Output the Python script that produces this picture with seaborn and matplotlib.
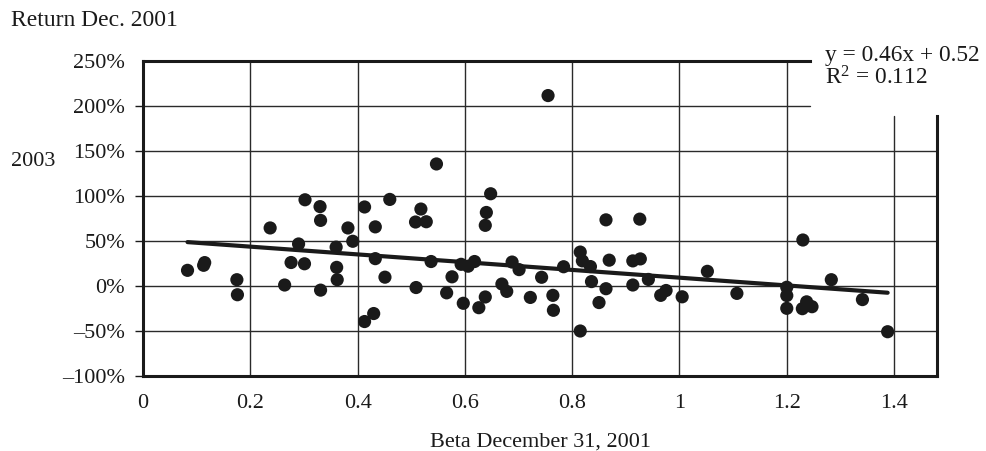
import matplotlib
matplotlib.use("Agg")
import matplotlib.pyplot as plt
import seaborn as sns
import numpy as np
import pandas as pd

# ---- data ----
beta = [0.083, 0.113, 0.115, 0.175, 0.176, 0.237, 0.264, 0.276, 0.290, 0.301,
        0.302, 0.330, 0.331, 0.331, 0.360, 0.361, 0.362, 0.382, 0.391, 0.413,
        0.413, 0.430, 0.433, 0.433, 0.451, 0.460, 0.508, 0.509, 0.518, 0.528,
        0.537, 0.547, 0.566, 0.576, 0.593, 0.597, 0.606, 0.618, 0.626, 0.638,
        0.638, 0.640, 0.648, 0.669, 0.678, 0.688, 0.701, 0.722, 0.743, 0.755,
        0.764, 0.765, 0.784, 0.815, 0.819, 0.834, 0.836, 0.815, 0.850, 0.863,
        0.863, 0.869, 0.913, 0.927, 0.913, 0.926, 0.942, 0.965, 0.975, 1.005,
        1.052, 1.107, 1.200, 1.200, 1.200, 1.230, 1.229, 1.237, 1.247, 1.283,
        1.341, 1.388]
ret = [17.4, 23.0, 26.0, 7.0, -9.7, 64.5, 1.1, 26.1, 46.7, 24.7,
       95.8, 88.2, 72.9, -4.6, 43.2, 20.7, 7.0, 64.5, 49.7, 87.8,
       -39.5, -30.6, 65.7, 30.4, 9.8, 96.2, 71.1, -1.7, 85.5, 71.4,
       27.2, 135.6, -7.6, 10.2, 24.1, -19.2, 22.0, 27.2, -24.1, -12.2,
       67.4, 81.7, 102.5, 2.2, -6.0, 26.6, 18.2, -12.7, 9.7, 211.6,
       -10.4, -27.0, 21.4, 37.7, 27.9, 21.6, 4.9, -50.0, -18.4, 73.5,
       -3.0, 28.7, 27.9, 30.1, 1.1, 74.3, 7.3, -10.4, -5.0, -12.0,
       16.3, -8.2, -1.4, -10.6, -24.8, 51.1, -25.2, -17.6, -23.0, 7.0,
       -15.1, -50.8]

x_ticks = [0, 0.2, 0.4, 0.6, 0.8, 1.0, 1.2, 1.4]
x_labels = ["0", "0.2", "0.4", "0.6", "0.8", "1", "1.2", "1.4"]
y_ticks = [-100, -50, 0, 50, 100, 150, 200, 250]
y_labels = ["\u2013100%", "\u201350%", "0%", "50%", "100%", "150%", "200%", "250%"]

eq_text = "y = 0.46x + 0.52"
r2_text = r"R$^{\mathrm{2}}$ = 0.112"
y_title_1 = "Return Dec. 2001"
y_title_2 = "2003"
x_title = "Beta December 31, 2001"

df = pd.DataFrame({"beta": beta, "ret": ret})

# ---- style ----
sns.set_theme(style="white")
plt.rcParams["font.family"] = ["Liberation Serif", "DejaVu Serif"]
plt.rcParams["mathtext.fontset"] = "custom"
plt.rcParams["mathtext.rm"] = "Liberation Serif"
plt.rcParams["mathtext.it"] = "Liberation Serif:italic"
FS = 16
ink = "#1a1a1a"
grid_c = "#2a2a2a"

fig = plt.figure(figsize=(9.87, 4.51), dpi=100)
ax = fig.add_axes([143 / 987, 1 - 376 / 451, 794 / 987, 315 / 451])

XMAX = 1.48
ax.set_xlim(0, XMAX)
ax.set_ylim(-100, 250)

# grid lines (drawn under the data)
for yv in y_ticks:
    if yv in (-100, 250):
        continue
    xmax = 0.84 if yv == 200 else 1.0
    ax.axhline(yv, xmin=0, xmax=xmax, color=grid_c, lw=1.0, zorder=1)
for xv in x_ticks:
    if xv == 0:
        continue
    ymax = 0.825 if xv == 1.4 else 1.0
    ax.axvline(xv, ymin=0, ymax=ymax, color=grid_c, lw=1.0, zorder=1)

sns.scatterplot(data=df, x="beta", y="ret", ax=ax, color=ink, s=90,
                edgecolor="none", linewidth=0, zorder=3, legend=False)
sns.regplot(data=df, x="beta", y="ret", ax=ax, scatter=False, ci=None,
            truncate=True, line_kws={"color": ink, "lw": 3.0, "zorder": 4})

# spines
for side in ["left", "bottom", "top", "right"]:
    ax.spines[side].set_visible(True)
    ax.spines[side].set_color(ink)
    ax.spines[side].set_linewidth(2.2)
    ax.spines[side].set_zorder(5)
ax.spines["top"].set_bounds(0, (810 - 143) / 794 * XMAX)
ax.spines["right"].set_bounds(-100, 189)

ax.set_xticks(x_ticks)
ax.set_xticklabels(x_labels, fontsize=FS)
ax.set_yticks(y_ticks)
ax.set_yticklabels(y_labels, fontsize=FS)
ax.tick_params(axis="x", length=0, pad=13, colors=ink)
ax.tick_params(axis="y", length=6, width=1.0, pad=7, colors=ink, left=True)
ax.yaxis.get_major_ticks()[-1].tick1line.set_visible(False)

ax.set_xlabel(x_title, fontsize=FS, color=ink, labelpad=14)
ax.set_ylabel("")

fig.text(11 / 987, 1 - 20 / 451, y_title_1, fontsize=17, color=ink,
         ha="left", va="center")
fig.text(11 / 987, 1 - 162 / 451, y_title_2, fontsize=FS, color=ink,
         ha="left", va="center")
fig.text(825 / 987, 1 - 56 / 451, eq_text, fontsize=16.8, color=ink,
         ha="left", va="center")
fig.text(825 / 987, 1 - 78 / 451, r2_text, fontsize=16.8, color=ink,
         ha="left", va="center")

fig.savefig("out.png", dpi=100, facecolor="white")
